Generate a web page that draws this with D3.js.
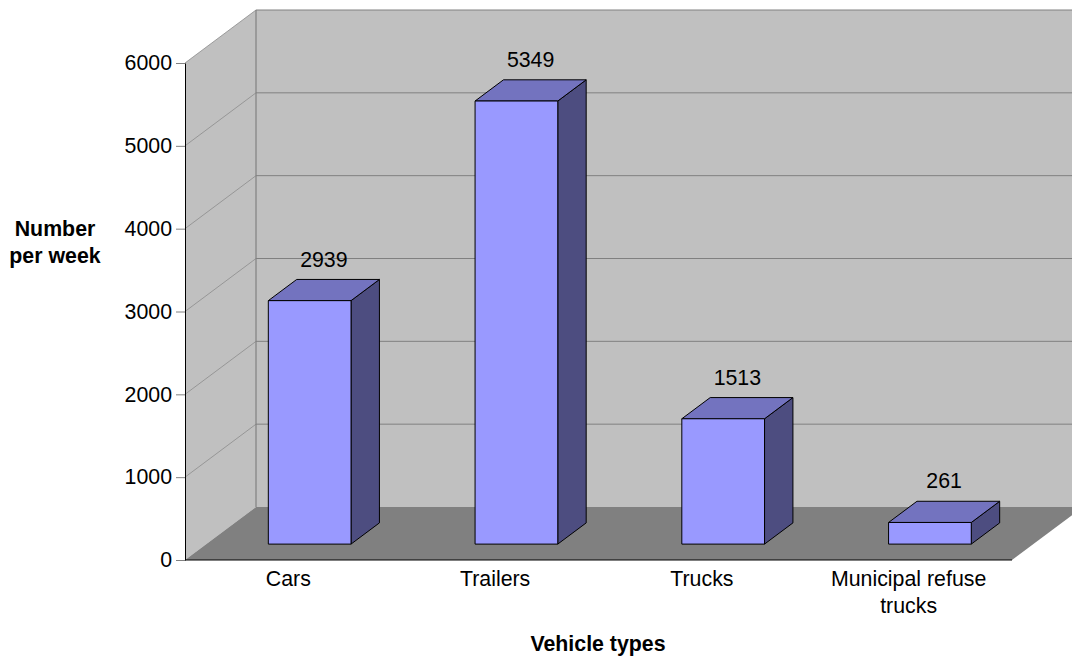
<!DOCTYPE html>
<html>
<head>
<meta charset="utf-8">
<script src="https://cdn.jsdelivr.net/npm/d3@7"></script>
<style>
  html, body { margin: 0; padding: 0; background: #fff; }
  svg { display: block; font-family: Arial, "Liberation Sans", sans-serif; }
</style>
</head>
<body>
<svg id="chart" width="1072" height="657"></svg>
<script>
// Weekly vehicle counts
const categories = ["Cars", "Trailers", "Trucks", "Municipal refuse trucks"];
const categoryLines = [["Cars"], ["Trailers"], ["Trucks"], ["Municipal refuse", "trucks"]];
const values = [2939, 5349, 1513, 261];
const tickValues = [0, 1000, 2000, 3000, 4000, 5000, 6000];
const yTitle = ["Number", "per week"];
const xTitle = "Vehicle types";

(function draw() {
  const svg = d3.select("#chart");
  const fontSize = 21.33;

  // Front plane of the plot box and the oblique depth offset
  const pLeft = 185, pRight = 1012, pBottom = 560, pTop = 63;
  const depthX = 71, depthY = -53;
  const barZ0 = 0.3, barZ1 = 0.7;

  const x = d3.scaleBand().domain(categories).range([pLeft, pRight])
    .paddingInner(0.6).paddingOuter(0.3);
  const y = d3.scaleLinear().domain([0, 6000]).range([pBottom, pTop]);

  // Project a front-plane point to a given depth fraction
  const P = (px, py, z) => [px + z * depthX, py + z * depthY];
  const poly = pts => "M" + pts.map(p => p.join(",")).join("L") + "Z";

  const wallFill = "#c0c0c0", floorFill = "#808080", edge = "#808080";

  // Back wall
  svg.append("path")
    .attr("d", poly([P(pLeft, pTop, 1), P(pRight, pTop, 1), P(pRight, pBottom, 1), P(pLeft, pBottom, 1)]))
    .attr("fill", wallFill);
  // Left wall
  svg.append("path")
    .attr("d", poly([P(pLeft, pBottom, 0), P(pLeft, pTop, 0), P(pLeft, pTop, 1), P(pLeft, pBottom, 1)]))
    .attr("fill", wallFill);

  // Gridlines on both walls
  const grid = svg.append("g");
  tickValues.filter(v => v > 0).forEach(v => {
    const a = P(pLeft, y(v), 0), b = P(pLeft, y(v), 1), c = P(pRight, y(v), 1);
    grid.append("line").attr("x1", a[0]).attr("y1", a[1]).attr("x2", b[0]).attr("y2", b[1])
      .attr("stroke", "#8c8c8c").attr("stroke-width", 0.8);
    grid.append("line").attr("x1", b[0]).attr("y1", b[1]).attr("x2", c[0]).attr("y2", c[1])
      .attr("stroke", edge).attr("stroke-width", 1);
  });
  // Back wall left edge
  {
    const a = P(pLeft, pTop, 1), b = P(pLeft, pBottom, 1);
    svg.append("line").attr("x1", a[0]).attr("y1", a[1]).attr("x2", b[0]).attr("y2", b[1])
      .attr("stroke", edge).attr("stroke-width", 1.2);
  }

  // Floor
  svg.append("path")
    .attr("d", poly([P(pLeft, pBottom, 0), P(pRight, pBottom, 0), P(pRight, pBottom, 1), P(pLeft, pBottom, 1)]))
    .attr("fill", floorFill);

  // Bars: side, top, front
  const bars = svg.append("g").selectAll("g").data(values.map((v, i) => ({ v, c: categories[i] })))
    .join("g");
  bars.each(function(d) {
    const g = d3.select(this);
    const x0 = x(d.c), x1 = x(d.c) + x.bandwidth();
    const yb = y(0), yt = y(d.v);
    g.append("path")
      .attr("d", poly([P(x1, yb, barZ0), P(x1, yt, barZ0), P(x1, yt, barZ1), P(x1, yb, barZ1)]))
      .attr("fill", "#4d4d80").attr("stroke", "#000").attr("stroke-width", 1).attr("stroke-linejoin", "round");
    g.append("path")
      .attr("d", poly([P(x0, yt, barZ0), P(x1, yt, barZ0), P(x1, yt, barZ1), P(x0, yt, barZ1)]))
      .attr("fill", "#7373bf").attr("stroke", "#000").attr("stroke-width", 1).attr("stroke-linejoin", "round");
    g.append("path")
      .attr("d", poly([P(x0, yb, barZ0), P(x1, yb, barZ0), P(x1, yt, barZ0), P(x0, yt, barZ0)]))
      .attr("fill", "#9999ff").attr("stroke", "#000").attr("stroke-width", 1).attr("stroke-linejoin", "round");
    const lp = P(x0 + x.bandwidth() / 2, yt, 0.5);
    g.append("text")
      .attr("x", lp[0]).attr("y", lp[1] - 23.5)
      .attr("text-anchor", "middle").attr("font-size", fontSize).attr("fill", "#000")
      .text(d.v);
  });

  // Value axis
  const yAxis = svg.append("g").attr("transform", `translate(${pLeft},0)`)
    .call(d3.axisLeft(y).tickValues(tickValues).tickFormat(d3.format("d")).tickSize(9).tickSizeOuter(0).tickPadding(4));
  yAxis.select(".domain").attr("stroke", "#000");
  yAxis.selectAll(".tick line").attr("stroke", edge);
  yAxis.selectAll(".tick text").attr("font-size", fontSize).attr("fill", "#000")
    .attr("font-family", "Arial, 'Liberation Sans', sans-serif");

  // Category axis line along the floor front edge
  svg.append("line").attr("x1", pLeft).attr("y1", pBottom).attr("x2", pRight).attr("y2", pBottom)
    .attr("stroke", "#000").attr("stroke-width", 1);

  // Category labels
  categories.forEach((c, i) => {
    const cx = x(c) + x.bandwidth() / 2;
    const t = svg.append("text").attr("text-anchor", "middle").attr("font-size", fontSize).attr("fill", "#000");
    categoryLines[i].forEach((ln, j) => {
      t.append("tspan").attr("x", cx).attr("y", 586 + j * 26.5).text(ln);
    });
  });

  // Axis titles
  const ytl = svg.append("text").attr("text-anchor", "middle").attr("font-size", fontSize)
    .attr("font-weight", "bold").attr("fill", "#000");
  yTitle.forEach((ln, j) => ytl.append("tspan").attr("x", 55).attr("y", 236 + j * 26.5).text(ln));

  svg.append("text").attr("x", 598).attr("y", 651).attr("text-anchor", "middle")
    .attr("font-size", fontSize).attr("font-weight", "bold").attr("fill", "#000").text(xTitle);
})();
</script>
</body>
</html>
